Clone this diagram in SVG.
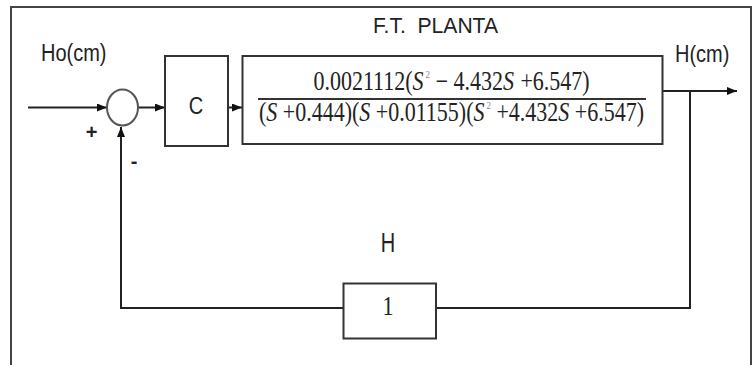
<svg xmlns="http://www.w3.org/2000/svg" width="753" height="365" viewBox="0 0 753 365">
<defs>
<marker id="arr" markerWidth="10" markerHeight="8" refX="10" refY="4" orient="auto" markerUnits="userSpaceOnUse">
<path d="M0,0 L10,4 L0,8 Z" fill="#111"/>
</marker>
<style>
.ln{fill:none;stroke:#222;stroke-width:2}
.bx{fill:#fff;stroke:#333;stroke-width:2}
.sans{font-family:"Liberation Sans",Arial,sans-serif;font-size:20px;fill:#222}
.ser{font-family:"Liberation Serif","Times New Roman",serif;font-size:22px;fill:#222}
.it{font-style:italic}
.sup{font-size:9px;fill:#888}
</style>
</defs>
<rect width="753" height="365" fill="#fff"/>
<path d="M11,365 V7 H751 V365" fill="none" stroke="#444" stroke-width="2"/>
<g id="connectors">
<line class="ln" x1="28" y1="107.5" x2="107" y2="107.5" marker-end="url(#arr)"/>
<line class="ln" x1="138" y1="107.5" x2="165" y2="107.5" marker-end="url(#arr)"/>
<line class="ln" x1="228" y1="107.5" x2="242" y2="107.5" marker-end="url(#arr)"/>
<line class="ln" x1="662" y1="91" x2="737" y2="91" marker-end="url(#arr)"/>
<polyline class="ln" points="690,91 690,308 436,308"/>
<polyline class="ln" points="343,308 121,308 121,127" marker-end="url(#arr)"/>
</g>
<g id="sum">
<ellipse cx="122.5" cy="107.5" rx="15.5" ry="18" fill="#fff" stroke="#555" stroke-width="2"/>
<text class="sans" transform="translate(91.5,139)" text-anchor="middle" font-size="15" font-weight="bold">+</text>
<text class="sans" transform="translate(134,168)" text-anchor="middle" font-size="15" font-weight="bold">-</text>
</g>
<g id="input-label">
<text class="sans" transform="translate(41,61) scale(1,1.22)">Ho(cm)</text>
</g>
<g id="controller">
<rect class="bx" x="165" y="56" width="63" height="90"/>
<text class="sans" transform="translate(196,114) scale(1,1.2)" text-anchor="middle">C</text>
</g>
<g id="plant">
<text class="sans" transform="translate(373,32.5) scale(1,1.12)" textLength="125" lengthAdjust="spacingAndGlyphs">F.T.&#160; PLANTA</text>
<rect class="bx" x="242.5" y="56" width="420" height="88"/>
<line x1="258" y1="99" x2="646" y2="99" stroke="#333" stroke-width="2"/>
<text class="ser" transform="translate(451.5,90) scale(1,1.22)" text-anchor="middle" font-size="20.5">0.0021112(<tspan class="it">S</tspan><tspan class="sup" dx="2" dy="-10">2</tspan><tspan dy="10"> − 4.432</tspan><tspan class="it">S</tspan><tspan dx="1"> +6.547)</tspan></text>
<text class="ser" transform="translate(259,121) scale(1,1.22)" textLength="385" lengthAdjust="spacingAndGlyphs">(<tspan class="it">S</tspan> +0.444)(<tspan class="it">S</tspan> +0.01155)(<tspan class="it">S</tspan><tspan class="sup" dx="2" dy="-10">2</tspan><tspan dy="10"> +4.432</tspan><tspan class="it">S</tspan> +6.547)</text>
</g>
<g id="output-label">
<text class="sans" transform="translate(675,62) scale(1,1.2)">H(cm)</text>
</g>
<g id="feedback">
<text class="sans" transform="translate(388,251.5) scale(1,1.35)" text-anchor="middle">H</text>
<rect class="bx" x="343.5" y="283.5" width="92.5" height="55"/>
<text class="ser" transform="translate(388,315) scale(1,1.25)" text-anchor="middle">1</text>
</g>
</svg>
